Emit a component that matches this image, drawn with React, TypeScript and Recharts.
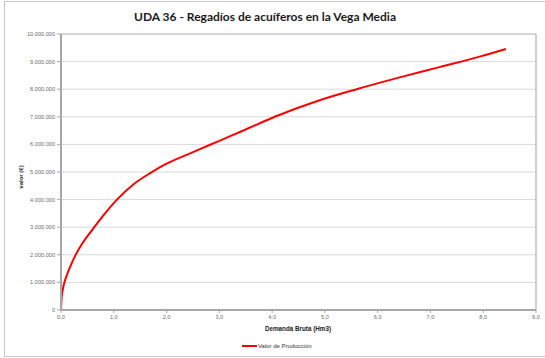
import React from "react";
import { LineChart, Line, XAxis, YAxis, CartesianGrid, ReferenceLine } from "recharts";

// Demanda bruta (Hm3) and valor de producción (€)
const demanda = [0, 0.01, 0.03, 0.065, 0.12, 0.2, 0.27, 0.4, 0.63, 0.8, 1.06, 1.37, 1.69, 2.0, 2.5, 3.0, 3.5, 4.05, 4.9, 5.6, 6.4, 7.17, 7.93, 8.43];
const valor = [0, 400000, 700000, 1000000, 1310000, 1680000, 1970000, 2400000, 3000000, 3420000, 4000000, 4550000, 4960000, 5300000, 5720000, 6130000, 6540000, 7000000, 7600000, 8000000, 8420000, 8800000, 9180000, 9460000];

const xTicks = [0, 1, 2, 3, 4, 5, 6, 7, 8, 9];
const yTicks = [0, 1000000, 2000000, 3000000, 4000000, 5000000, 6000000, 7000000, 8000000, 9000000, 10000000];

const data = demanda.map((d, i) => ({ demanda: d, valor: valor[i] }));

const fmtY = (v: number) => String(v).replace(/\B(?=(\d{3})+(?!\d))/g, ".");
const fmtX = (v: number) => v.toFixed(1).replace(".", ",");

const tickStyle = { fill: "#6b6b6b", fontSize: 5.6, fontFamily: "Liberation Sans, Arial, sans-serif" };

export default function App() {
	return (
		<div style={{ position: "absolute", left: 0, top: 0, width: 545, height: 358, background: "#fff", overflow: "hidden" }}>
			<div style={{ position: "absolute", left: 4, top: 1, width: 560, height: 354, border: "1px solid #c8c8c8" }} />
			<div
				style={{
					position: "absolute",
					left: 0,
					top: 9,
					width: 530,
					textAlign: "center",
					fontFamily: "Lato, sans-serif",
					fontWeight: 700,
					fontSize: 12,
					color: "#1a1a1a",
				}}
			>
				UDA 36 - Regadíos de acuíferos en la Vega Media
			</div>
			<div
				style={{
					position: "absolute",
					left: 21,
					top: 177,
					transform: "translate(-50%, -50%) rotate(-90deg)",
					fontFamily: "Liberation Sans, Arial, sans-serif",
					fontWeight: 700,
					fontSize: 6,
					color: "#222",
					whiteSpace: "nowrap",
				}}
			>
				valor (€)
			</div>
			<div
				style={{
					position: "absolute",
					left: 298,
					top: 328,
					transform: "translate(-50%, -50%)",
					fontFamily: "Liberation Sans, Arial, sans-serif",
					fontWeight: 700,
					fontSize: 6.3,
					color: "#222",
					whiteSpace: "nowrap",
				}}
			>
				Demanda Bruta (Hm3)
			</div>
			<div style={{ position: "absolute", left: 242, top: 343, display: "flex", alignItems: "center", fontFamily: "Liberation Sans, Arial, sans-serif", fontSize: 6, color: "#333" }}>
				<div style={{ width: 15, height: 2, background: "#ff0000", marginRight: 1 }} />
				<span>Valor de Producción</span>
			</div>
			<div style={{ position: "absolute", left: 0, top: 0 }}>
				<LineChart width={545} height={358} data={data} margin={{ top: 34, right: 9, bottom: 28, left: 0 }}>
					<CartesianGrid vertical={false} stroke="#d9d9d9" />
					<XAxis
						dataKey="demanda"
						type="number"
						domain={[0, 9]}
						ticks={xTicks}
						tickFormatter={fmtX}
						tick={tickStyle}
						tickSize={3}
						tickMargin={2}
						height={20}
						stroke="#a6a6a6"
						axisLine={{ stroke: "#a6a6a6", strokeWidth: 2 }}
					/>
					<YAxis
						type="number"
						domain={[0, 10000000]}
						ticks={yTicks}
						tickFormatter={fmtY}
						tick={tickStyle}
						tickSize={4}
						tickMargin={2}
						width={61}
						stroke="#a6a6a6"
						axisLine={{ stroke: "#a6a6a6", strokeWidth: 2 }}
					/>
					<ReferenceLine y={10000000} stroke="#bfbfbf" />
					<ReferenceLine x={9} stroke="#bfbfbf" strokeWidth={1.5} />
					<Line
						type="monotone"
						dataKey="valor"
						name="Valor de Producción"
						stroke="#ff0000"
						strokeWidth={2}
						dot={false}
						isAnimationActive={false}
					/>
				</LineChart>
			</div>
		</div>
	);
}
